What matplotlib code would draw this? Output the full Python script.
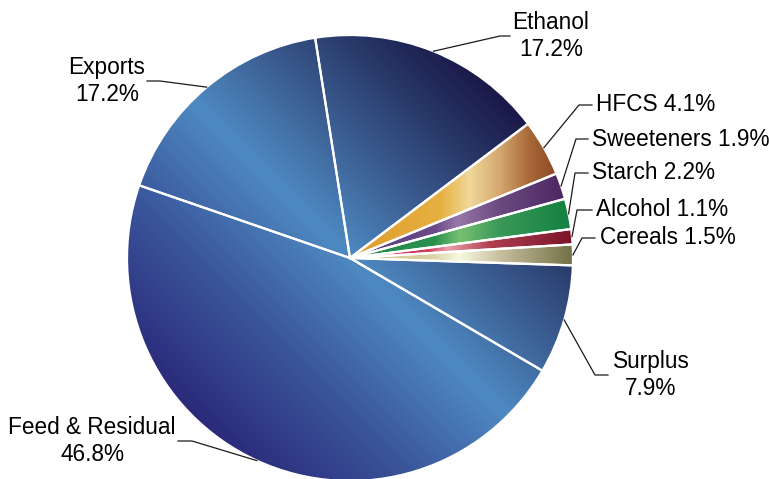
import numpy as np
import matplotlib.pyplot as plt
from matplotlib.colors import LinearSegmentedColormap

# corn use by category, percent of total
labels = ['Ethanol', 'HFCS', 'Sweeteners', 'Starch', 'Alcohol', 'Cereals',
          'Surplus', 'Feed & Residual', 'Exports']
shares = [17.2, 4.1, 1.9, 2.2, 1.1, 1.5, 7.9, 46.8, 17.2]

plt.rcParams['font.family'] = ['Liberation Sans', 'DejaVu Sans']

W, H = 769, 479
CX, CY, R = 350, 258, 223


def px(x, y):
    """pixel position -> data units (pie radius = 1)"""
    return (x - CX) / R, (CY - y) / R


# label placement in pixels: (x, y, ha, two-line?)
label_pos = {
    'Ethanol': (551, 36, 'center', True),
    'Exports': (107, 81, 'center', True),
    'HFCS': (596, 105, 'left', False),
    'Sweeteners': (592, 140, 'left', False),
    'Starch': (592, 173, 'left', False),
    'Alcohol': (596, 210, 'left', False),
    'Cereals': (600, 238, 'left', False),
    'Surplus': (651, 375, 'center', True),
    'Feed & Residual': (92, 441, 'center', True),
}
# leader line elbow and end, pixels
leaders = {
    'Ethanol': [(500, 36), (510, 36)],
    'Exports': [(160, 81), (147, 81)],
    'HFCS': [(579, 105), (592, 105)],
    'Sweeteners': [(576, 139), (588, 139)],
    'Starch': [(575, 173), (588, 173)],
    'Alcohol': [(577, 210), (592, 210)],
    'Cereals': [(582, 238), (595, 238)],
    'Surplus': [(595, 375), (608, 375)],
    'Feed & Residual': [(192, 441), (178, 441)],
}

# horizontal colour bands for the small slices: (pixel x, colour)
bands = {
    'HFCS': [(350, '#DE9C2C'), (440, '#E6B040'), (470, '#F0D898'),
             (500, '#D4A870'), (530, '#A86838'), (575, '#7A3515')],
    'Sweeteners': [(350, '#5A3C7C'), (435, '#6A4A8A'), (458, '#9878A8'),
                   (500, '#6A4A80'), (575, '#48205E')],
    'Starch': [(350, '#1E8848'), (435, '#2A9050'), (460, '#78C070'),
               (500, '#3A9858'), (575, '#108040')],
    'Alcohol': [(350, '#C83050'), (428, '#D04060'), (448, '#E8A0A8'),
                (490, '#B04050'), (575, '#7A1028')],
    'Cereals': [(350, '#D0C890'), (430, '#D8D0A0'), (460, '#F8F8E0'),
                (500, '#C8C0A0'), (578, '#6E6A40')],
}

blue = LinearSegmentedColormap.from_list('blue', [
    (0.0, '#2B2A7A'), (0.25, '#3A559A'), (0.5, '#4E8AC2'),
    (0.7, '#3A5A8E'), (0.85, '#283868'), (1.0, '#1A1848')])

fig = plt.figure(figsize=(W / 100, H / 100), dpi=100)
ax = fig.add_axes([0, 0, 1, 1])

wedges, _ = ax.pie(shares, startangle=99, counterclock=False, radius=1,
                   wedgeprops=dict(facecolor='none', edgecolor='white',
                                   linewidth=1.6, zorder=3))

n = 600
g = np.linspace(-1, 1, n)
X, Y = np.meshgrid(g, g)

for lab, w in zip(labels, wedges):
    if lab in bands:
        stops = bands[lab]
        x0 = (stops[0][0] - CX) / R
        x1 = (stops[-1][0] - CX) / R
        cmap = LinearSegmentedColormap.from_list(
            lab, [((p - stops[0][0]) / (stops[-1][0] - stops[0][0]), c)
                  for p, c in stops])
        im = ax.imshow(X, cmap=cmap, vmin=x0, vmax=x1, extent=(-1, 1, -1, 1),
                       origin='lower', zorder=1, interpolation='bilinear')
    else:
        im = ax.imshow((X + Y) / np.sqrt(2), cmap=blue, vmin=-1, vmax=1,
                       extent=(-1, 1, -1, 1), origin='lower', zorder=1,
                       interpolation='bilinear')
    im.set_clip_path(w)

    # leader line from the middle of the slice edge
    mid = np.deg2rad((w.theta1 + w.theta2) / 2)
    pts = [(np.cos(mid), np.sin(mid))] + [px(*p) for p in leaders[lab]]
    xs, ys = zip(*pts)
    ax.plot(xs, ys, color='#1A1A1A', lw=0.9, zorder=4)

    x, y, ha, two = label_pos[lab]
    val = shares[labels.index(lab)]
    txt = f'{lab}\n{val}%' if two else f'{lab} {val}%'
    ax.text(*px(x, y), txt, ha=ha, va='center', fontsize=16.3,
            linespacing=1.25, color='black', zorder=5)

x0, y1 = px(0, 0)
x1, y0 = px(W, H)
ax.set_xlim(x0, x1)
ax.set_ylim(y0, y1)
ax.set_aspect('auto')
ax.axis('off')

fig.savefig('out.png', dpi=100, facecolor='white')
